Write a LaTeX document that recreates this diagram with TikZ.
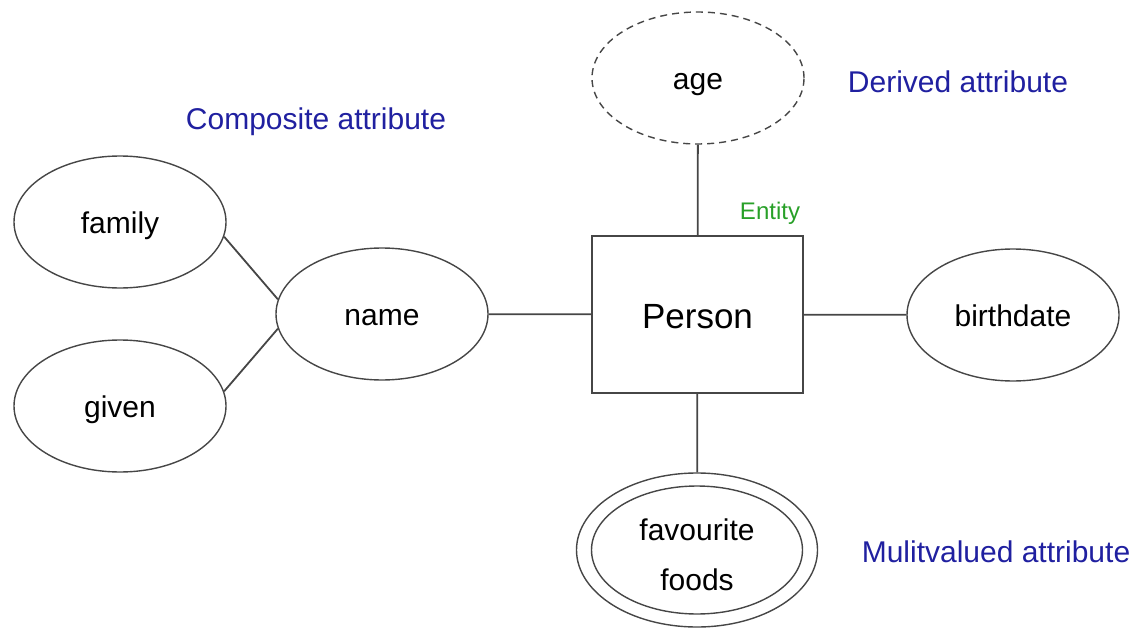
\documentclass[tikz,border=0pt]{standalone}
\usepackage{fontspec}
\setmainfont{Liberation Sans}
\usetikzlibrary{shapes.geometric}
\definecolor{notecol}{RGB}{32,32,160}
\definecolor{entcol}{RGB}{40,160,40}
\definecolor{inkcol}{RGB}{70,70,70}
\begin{document}
\begin{tikzpicture}[x=1pt,y=-1pt,
  attr/.style={ellipse,draw=inkcol,line width=1.4pt,inner sep=0pt,
    minimum width=212pt,minimum height=132pt,
    text height=23pt,text depth=0pt,
    font=\fontsize{30}{36}\selectfont},
  entitybox/.style={rectangle,draw=inkcol,line width=1.8pt,inner sep=0pt,
    minimum width=211pt,minimum height=157pt,
    text height=27pt,text depth=0pt,
    font=\fontsize{35}{42}\selectfont},
  note/.style={text=notecol,font=\fontsize{30}{36}\selectfont,inner sep=0pt},
  link/.style={draw=inkcol,line width=1.8pt}]
\useasboundingbox (0,0) rectangle (1142,631);

% entity
\node[entitybox] (person) at (697.5,314.5) {Person};
\node[text=entcol,font=\fontsize{24}{28}\selectfont,inner sep=0pt] (entlbl) at (770,213) {Entity};

% attributes
\node[attr,dash pattern=on 7pt off 5pt] (age) at (698,78) {age};
\node[attr] (name) at (382,314) {name};
\node[attr] (family) at (120,222) {family};
\node[attr] (given) at (120,406) {given};
\node[attr] (birthdate) at (1013,315) {birthdate};

% multivalued attribute: double ellipse
\node[attr,minimum width=241pt,minimum height=154pt] (foods) at (697,550) {};
\node[attr,minimum width=211pt,minimum height=128pt,align=center,
  text height=80pt,text depth=0pt,font=\fontsize{30}{50}\selectfont] (foodsin) at (697,550) {favourite\\foods};

% notes
\node[note] (compnote) at (316,122) {Composite attribute};
\node[note] (dernote) at (958,82) {Derived attribute};
\node[note] (multnote) at (996,552) {Mulitvalued attribute};

% connectors
\draw[link] (age) -- (person);
\draw[link] (name) -- (person);
\draw[link] (person) -- (birthdate);
\draw[link] (person) -- (foods);
\draw[link] (family.-8) -- (name.172);
\draw[link] (given.8) -- (name.188);
\end{tikzpicture}
\end{document}
